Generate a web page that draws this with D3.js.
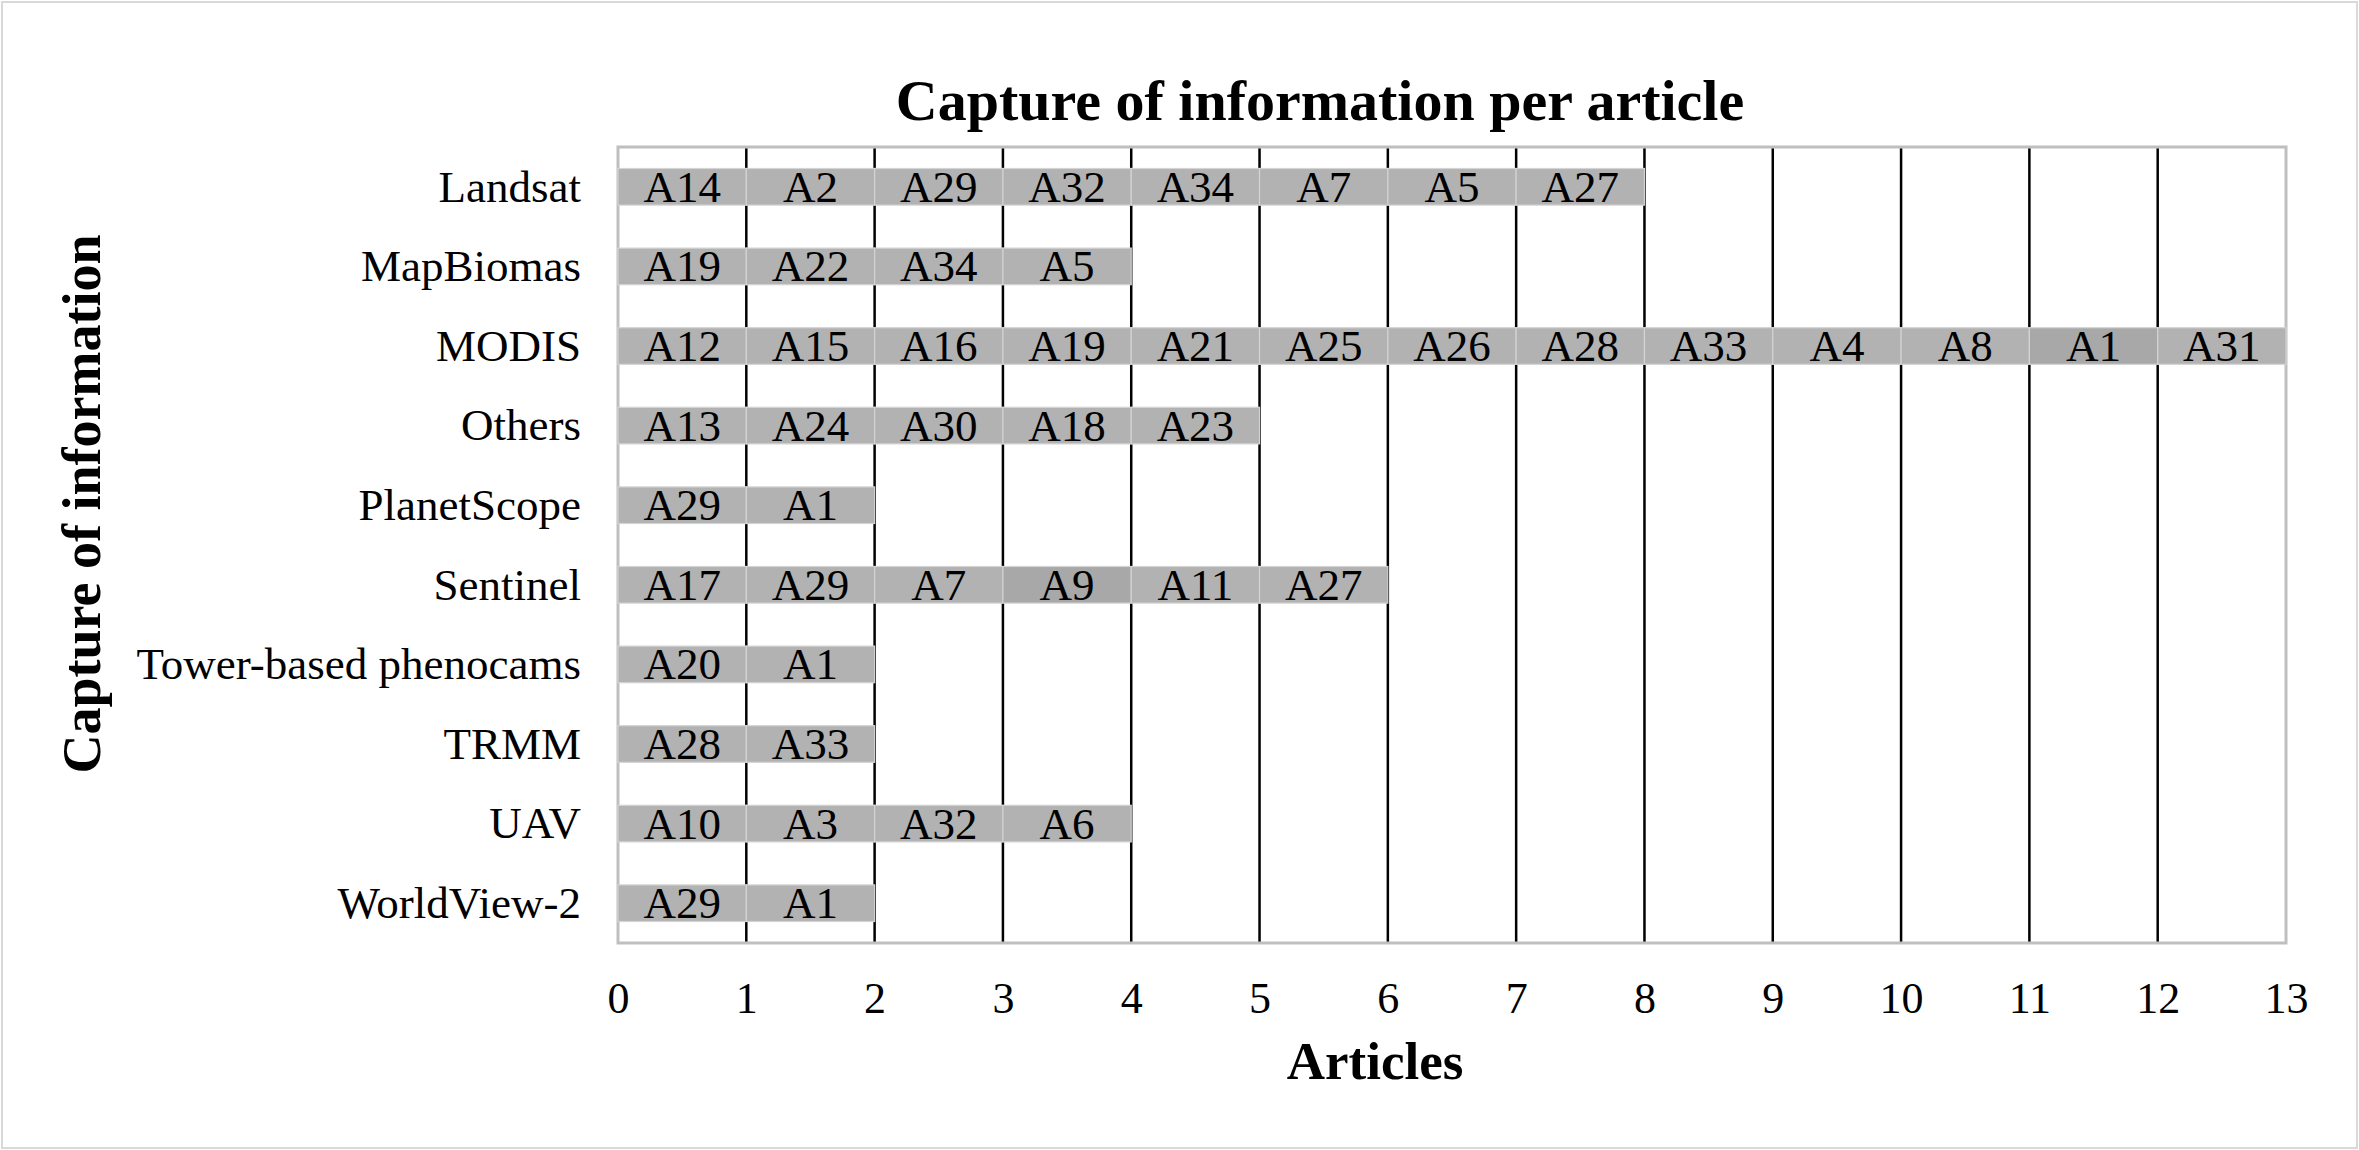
<!DOCTYPE html>
<html>
<head>
<meta charset="utf-8">
<style>
body { margin: 0; background: #fff; }
svg text { font-family: "Liberation Serif", "Times New Roman", serif; fill: #000; }
</style>
</head>
<body>
<div id="chart"></div>
<script src="https://cdn.jsdelivr.net/npm/d3@7/dist/d3.min.js"></script>
<script>

// categories (top to bottom) and the article ids stacked in each row
var categories = ["Landsat", "MapBiomas", "MODIS", "Others", "PlanetScope", "Sentinel",
                  "Tower-based phenocams", "TRMM", "UAV", "WorldView-2"]
var landsat     = ["A14", "A2", "A29", "A32", "A34", "A7", "A5", "A27"]
var mapbiomas   = ["A19", "A22", "A34", "A5"]
var modis       = ["A12", "A15", "A16", "A19", "A21", "A25", "A26", "A28", "A33", "A4", "A8", "A1", "A31"]
var others      = ["A13", "A24", "A30", "A18", "A23"]
var planetscope = ["A29", "A1"]
var sentinel    = ["A17", "A29", "A7", "A9", "A11", "A27"]
var phenocams   = ["A20", "A1"]
var trmm        = ["A28", "A33"]
var uav         = ["A10", "A3", "A32", "A6"]
var worldview   = ["A29", "A1"]
var articles = [landsat, mapbiomas, modis, others, planetscope, sentinel, phenocams, trmm, uav, worldview]
var xTicks = [0, 1, 2, 3, 4, 5, 6, 7, 8, 9, 10, 11, 12, 13]
// a couple of segments are drawn in a slightly darker grey in the original
var darker = ["Sentinel|A9", "MODIS|A1"]

var W = 2359, H = 1150
var plot = {left: 618, right: 2286, top: 147, bottom: 943}

var svg = d3.select("#chart").append("svg")
    .attr("width", W).attr("height", H)

// outer frame
svg.append("rect")
    .attr("x", 2).attr("y", 2).attr("width", W - 4).attr("height", H - 4)
    .attr("fill", "#fff").attr("stroke", "#d9d9d9").attr("stroke-width", 2)

var x = d3.scaleLinear().domain([0, 13]).range([plot.left, plot.right])
var y = d3.scaleBand().domain(categories).range([plot.top, plot.bottom])
    .paddingInner(0.54).paddingOuter(0.27)

// flatten into segments
var segs = []
categories.forEach(function(c, i){
    articles[i].forEach(function(a, j){
        segs.push({cat: c, id: a, start: j, end: j + 1})
    })
})

// vertical gridlines (black) at interior ticks
svg.append("g").selectAll("line")
    .data(xTicks.filter(d => d > 0 && d < 13))
    .enter().append("line")
    .attr("x1", d => x(d)).attr("x2", d => x(d))
    .attr("y1", plot.top).attr("y2", plot.bottom)
    .attr("stroke", "#000").attr("stroke-width", 2.5)

// plot frame
svg.append("rect")
    .attr("x", plot.left).attr("y", plot.top)
    .attr("width", plot.right - plot.left).attr("height", plot.bottom - plot.top)
    .attr("fill", "none").attr("stroke", "#bfbfbf").attr("stroke-width", 3)

// bars
svg.append("g").selectAll("rect")
    .data(segs).enter().append("rect")
    .attr("x", d => x(d.start))
    .attr("y", d => y(d.cat))
    .attr("width", d => x(d.end) - x(d.start))
    .attr("height", y.bandwidth())
    .attr("fill", d => darker.indexOf(d.cat + "|" + d.id) >= 0 ? "#a8a8a8" : "#b2b2b2")
    .attr("stroke", "#d4d4d4").attr("stroke-width", 1.2)

// labels in the bars
svg.append("g").selectAll("text")
    .data(segs).enter().append("text")
    .attr("x", d => (x(d.start) + x(d.end)) / 2)
    .attr("y", d => y(d.cat) + y.bandwidth() / 2 + 15)
    .attr("text-anchor", "middle")
    .style("font-size", "45px")
    .text(d => d.id)

// x axis tick labels
var xAxis = svg.append("g")
    .attr("transform", "translate(0," + plot.bottom + ")")
    .call(d3.axisBottom(x).tickValues(xTicks).tickFormat(d3.format("d")).tickSize(0).tickPadding(56))
xAxis.select(".domain").remove()
xAxis.selectAll("text").style("font-size", "44px").attr("dy", "0.32em")

// y axis category labels
var yAxis = svg.append("g")
    .attr("transform", "translate(" + plot.left + ",0)")
    .call(d3.axisLeft(y).tickSize(0).tickPadding(37))
yAxis.select(".domain").remove()
yAxis.selectAll("text").style("font-size", "45px").attr("dy", "0.33em")

// title
svg.append("text")
    .attr("x", 1320).attr("y", 120)
    .attr("text-anchor", "middle")
    .style("font-size", "58px").style("font-weight", "bold")
    .text("Capture of information per article")

// axis titles
svg.append("text")
    .attr("x", 1375).attr("y", 1079)
    .attr("text-anchor", "middle")
    .style("font-size", "53px").style("font-weight", "bold")
    .text("Articles")

svg.append("text")
    .attr("transform", "translate(100,504) rotate(-90)")
    .attr("text-anchor", "middle")
    .style("font-size", "54px").style("font-weight", "bold")
    .text("Capture of information")

</script>
</body>
</html>
